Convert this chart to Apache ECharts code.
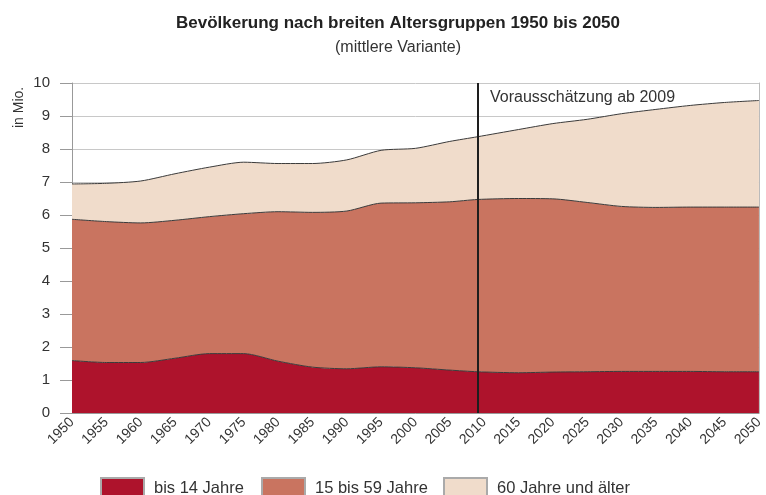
<!DOCTYPE html>
<html>
<head>
<meta charset="utf-8">
<script src="https://cdn.jsdelivr.net/npm/echarts@6/dist/echarts.min.js"></script>
<style>
  html, body { margin: 0; padding: 0; background: #fff; }
  #chart { width: 766px; height: 495px; }
</style>
</head>
<body>
<div id="chart"></div>
<script>
// Jahre (2009 = Beginn der Vorausschätzung)
const years = [1950, 1955, 1960, 1965, 1970, 1975, 1980, 1985, 1990, 1995, 2000,
  2005, 2009, 2015, 2020, 2025, 2030, 2035, 2040, 2045, 2050]
// Werte in Mio., je Altersgruppe (nicht kumuliert)
const bis14 = [1.59, 1.53, 1.53, 1.66, 1.80, 1.80, 1.57, 1.39, 1.34, 1.40, 1.37,
  1.30, 1.25, 1.22, 1.24, 1.25, 1.26, 1.26, 1.26, 1.25, 1.25]
const von15bis59 = [4.28, 4.27, 4.23, 4.18, 4.15, 4.24, 4.53, 4.69, 4.78, 4.96, 5.00,
  5.10, 5.22, 5.28, 5.25, 5.13, 5.00, 4.97, 4.98, 4.99, 4.99]
const ab60 = [1.07, 1.16, 1.27, 1.41, 1.50, 1.56, 1.46, 1.48, 1.55, 1.60, 1.65,
  1.83, 1.90, 2.09, 2.28, 2.52, 2.81, 2.97, 3.08, 3.17, 3.23]
const seriesNames = ['bis 14 Jahre', '15 bis 59 Jahre', '60 Jahre und älter']
const colors = ['#ae132c', '#c97460', '#f0dccb']
const forecastYear = 2009

const chart = echarts.init(document.getElementById('chart'))
const font = 'Liberation Sans, Arial, sans-serif'

// value first, year second, so the stack is built on the value
function pairs (values) {
  return years.map((y, i) => [values[i], y])
}

function areaSeries (name, values, color, extra) {
  return Object.assign({
    name: name,
    type: 'line',
    stack: 'gesamt',
    data: pairs(values),
    encode: { x: 1, y: 0 },
    smooth: 0.25,
    showSymbol: false,
    symbol: 'none',
    silent: true,
    lineStyle: { color: '#3a3a3a', width: 1 },
    areaStyle: { color: color, opacity: 1 },
    itemStyle: { color: color, borderColor: '#aaa', borderWidth: 1 }
  }, extra || {})
}

function legendItem (i, left) {
  return {
    data: [seriesNames[i]],
    left: left,
    top: 472,
    icon: 'rect',
    itemWidth: 43,
    itemHeight: 20,
    textStyle: { fontSize: 16.5, color: '#333', fontFamily: font, padding: [0, 0, 0, 5] }
  }
}

const option = {
  animation: false,
  textStyle: { fontFamily: font },
  title: {
    text: 'Bevölkerung nach breiten Altersgruppen 1950 bis 2050',
    subtext: '(mittlere Variante)',
    left: 393,
    top: 10,
    textAlign: 'center',
    itemGap: 8,
    textStyle: { fontSize: 17, fontWeight: 'bold', color: '#222' },
    subtextStyle: { fontSize: 16, color: '#333' }
  },
  legend: [legendItem(0, 95), legendItem(1, 256), legendItem(2, 438)],
  grid: { left: 72, right: 4, top: 83, bottom: 82 },
  xAxis: {
    type: 'value',
    min: 1950,
    max: 2050,
    interval: 5,
    splitLine: { show: false },
    axisTick: { show: false },
    axisLine: { lineStyle: { color: '#999' } },
    axisLabel: { rotate: 45, fontSize: 14, color: '#333', margin: 7, formatter: v => String(v) }
  },
  yAxis: [{
    type: 'value',
    min: 0,
    max: 10,
    interval: 1,
    axisLine: { show: true, lineStyle: { color: '#999' } },
    axisTick: { show: true, length: 12, lineStyle: { color: '#999' } },
    axisLabel: { fontSize: 15, color: '#333', margin: 22 },
    splitLine: { lineStyle: { color: '#c8c8c8' } }
  }, {
    type: 'value',
    min: 0,
    max: 10,
    position: 'right',
    axisLine: { show: true, lineStyle: { color: '#bbb' } },
    axisTick: { show: false },
    axisLabel: { show: false },
    splitLine: { show: false }
  }],
  graphic: [{
    type: 'text',
    x: 26,
    y: 128,
    rotation: Math.PI / 2,
    style: { text: 'in Mio.', fontSize: 14, fill: '#333', fontFamily: font, textAlign: 'left', textVerticalAlign: 'bottom' }
  }, {
    type: 'text',
    left: 490,
    top: 90,
    style: { text: 'Vorausschätzung ab ' + forecastYear, fontSize: 16, fill: '#333', fontFamily: font }
  }],
  series: [
    areaSeries(seriesNames[0], bis14, colors[0]),
    areaSeries(seriesNames[1], von15bis59, colors[1]),
    areaSeries(seriesNames[2], ab60, colors[2], {
      markLine: {
        silent: true,
        symbol: 'none',
        label: { show: false },
        lineStyle: { color: '#1e1e1e', width: 2, type: 'solid' },
        data: [{ xAxis: forecastYear }]
      }
    })
  ]
}

chart.setOption(option)
</script>
</body>
</html>
